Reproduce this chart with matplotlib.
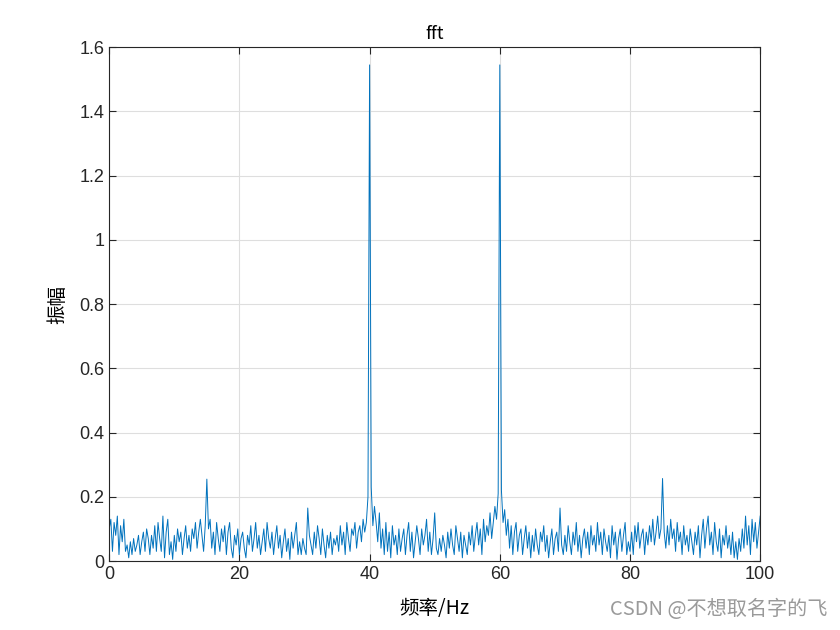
import numpy as np
import matplotlib
matplotlib.use('Agg')
from matplotlib import pyplot as plt
from matplotlib.ticker import FuncFormatter

# frequency grid, 0.25 Hz step
freq = np.linspace(0, 100, 401)

# amplitude, 20 values per 5 Hz
amp = [
    0.10, 0.13, 0.03, 0.12, 0.08, 0.14, 0.02, 0.11, 0.06, 0.13, 0.03, 0.05, 0.01, 0.06, 0.02, 0.07, 0.03, 0.05, 0.08, 0.02,
    0.06, 0.09, 0.03, 0.10, 0.07, 0.02, 0.08, 0.04, 0.11, 0.03, 0.12, 0.07, 0.03, 0.14, 0.01, 0.09, 0.13, 0.02, 0.06, 0.005,
    0.08, 0.03, 0.10, 0.06, 0.09, 0.02, 0.07, 0.11, 0.04, 0.08, 0.03, 0.10, 0.07, 0.12, 0.04, 0.09, 0.13, 0.08, 0.03, 0.11,
    0.255, 0.10, 0.13, 0.04, 0.09, 0.02, 0.12, 0.07, 0.03, 0.10, 0.06, 0.11, 0.02, 0.09, 0.12, 0.04, 0.01, 0.08, 0.05, 0.10,
    0.02, 0.07, 0.09, 0.04, 0.01, 0.08, 0.05, 0.11, 0.03, 0.07, 0.12, 0.04, 0.08, 0.02, 0.06, 0.10, 0.03, 0.12, 0.07, 0.04,
    0.09, 0.02, 0.07, 0.11, 0.04, 0.08, 0.01, 0.06, 0.10, 0.03, 0.07, 0.005, 0.09, 0.04, 0.08, 0.12, 0.02, 0.06, 0.02, 0.07,
    0.04, 0.02, 0.165, 0.08, 0.05, 0.02, 0.09, 0.04, 0.11, 0.07, 0.02, 0.10, 0.05, 0.01, 0.08, 0.04, 0.09, 0.02, 0.07, 0.05,
    0.08, 0.03, 0.11, 0.05, 0.09, 0.02, 0.12, 0.07, 0.03, 0.10, 0.08, 0.12, 0.04, 0.09, 0.11, 0.06, 0.13, 0.09, 0.12, 0.20,
    1.545, 0.23, 0.11, 0.17, 0.12, 0.06, 0.15, 0.04, 0.10, 0.02, 0.12, 0.03, 0.09, 0.01, 0.11, 0.05, 0.08, 0.02, 0.10, 0.03,
    0.07, 0.10, 0.02, 0.08, 0.12, 0.03, 0.09, 0.01, 0.06, 0.11, 0.07, 0.02, 0.10, 0.05, 0.08, 0.13, 0.03, 0.09, 0.02, 0.07,
    0.15, 0.04, 0.02, 0.07, 0.03, 0.08, 0.05, 0.01, 0.09, 0.04, 0.10, 0.05, 0.02, 0.11, 0.07, 0.03, 0.09, 0.01, 0.08, 0.05,
    0.02, 0.09, 0.05, 0.11, 0.03, 0.08, 0.12, 0.05, 0.10, 0.02, 0.13, 0.06, 0.11, 0.08, 0.15, 0.07, 0.12, 0.17, 0.13, 0.21,
    1.545, 0.22, 0.12, 0.16, 0.08, 0.13, 0.04, 0.11, 0.02, 0.09, 0.12, 0.03, 0.08, 0.10, 0.02, 0.07, 0.11, 0.04, 0.09, 0.01,
    0.08, 0.03, 0.10, 0.05, 0.02, 0.09, 0.06, 0.11, 0.03, 0.08, 0.01, 0.06, 0.10, 0.02, 0.07, 0.09, 0.03, 0.165, 0.05, 0.02,
    0.08, 0.03, 0.11, 0.06, 0.02, 0.09, 0.05, 0.12, 0.03, 0.08, 0.01, 0.07, 0.10, 0.04, 0.09, 0.02, 0.11, 0.05, 0.08, 0.03,
    0.12, 0.05, 0.09, 0.02, 0.10, 0.06, 0.03, 0.08, 0.01, 0.11, 0.05, 0.09, 0.005, 0.07, 0.10, 0.03, 0.08, 0.12, 0.02, 0.06,
    0.03, 0.09, 0.02, 0.11, 0.06, 0.12, 0.04, 0.08, 0.10, 0.02, 0.09, 0.05, 0.11, 0.06, 0.13, 0.05, 0.09, 0.14, 0.07, 0.10,
    0.257, 0.09, 0.04, 0.11, 0.05, 0.13, 0.07, 0.10, 0.03, 0.12, 0.06, 0.09, 0.02, 0.11, 0.05, 0.08, 0.03, 0.10, 0.06, 0.02,
    0.09, 0.05, 0.11, 0.01, 0.08, 0.13, 0.04, 0.10, 0.14, 0.05, 0.09, 0.02, 0.12, 0.06, 0.03, 0.10, 0.01, 0.08, 0.05, 0.11,
    0.04, 0.08, 0.02, 0.09, 0.01, 0.06, 0.005, 0.07, 0.03, 0.10, 0.04, 0.14, 0.05, 0.11, 0.02, 0.13, 0.06, 0.12, 0.04, 0.09,
    0.14,
]

x_ticks = [0, 20, 40, 60, 80, 100]
y_ticks = [0, 0.2, 0.4, 0.6, 0.8, 1.0, 1.2, 1.4, 1.6]

cjk = ['Noto Sans CJK SC', 'DejaVu Sans']
plt.rcParams['font.family'] = ['Liberation Sans', 'DejaVu Sans']

fig = plt.figure(figsize=(8.4, 6.3), dpi=100)
ax = fig.add_axes([0.13, 0.1095, 0.775, 0.8155])

ax.plot(freq, amp, color='#0072BD', lw=0.7)

ax.set_xlim(0, 100)
ax.set_ylim(0, 1.6)
ax.set_xticks(x_ticks)
ax.set_yticks(y_ticks)
ax.yaxis.set_major_formatter(FuncFormatter(lambda v, p: f'{v:g}'))
ax.grid(True, color='#dedede', lw=0.8)
ax.set_axisbelow(True)
ax.tick_params(direction='in', top=True, right=True, labelsize=13,
               colors='#262626', length=5, width=0.8)
for s in ax.spines.values():
    s.set_color('#262626')
    s.set_linewidth(0.8)

ax.set_title('fft', family=cjk, fontsize=13, pad=6)
ax.set_xlabel('频率/Hz', family=cjk, fontsize=14, labelpad=11)
ax.set_ylabel('振幅', family=cjk, fontsize=14, labelpad=8)

fig.text(0.985, 0.016, 'CSDN @不想取名字的飞', family=cjk, fontsize=14.5,
         color='#9a9a9a', ha='right', va='bottom')

fig.savefig('out.png', dpi=100)
